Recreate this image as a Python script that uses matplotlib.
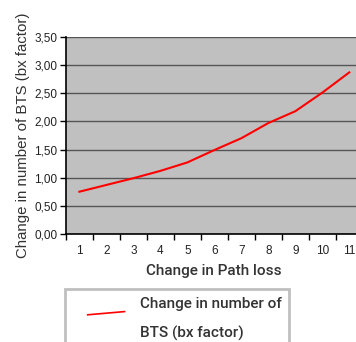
import matplotlib
matplotlib.use('Agg')
import matplotlib.pyplot as plt
from matplotlib.legend_handler import HandlerBase
from matplotlib.lines import Line2D
import numpy as np

# values
path_loss = [1, 2, 3, 4, 5, 6, 7, 8, 9, 10, 11]
bts_factor = [0.75, 0.87, 0.99, 1.12, 1.27, 1.49, 1.70, 1.97, 2.18, 2.51, 2.87]
y_ticks = [0.0, 0.5, 1.0, 1.5, 2.0, 2.5, 3.0, 3.5]
series_name = "Change in number of\nBTS (bx factor)"


class SlantHandler(HandlerBase):
    # legend key drawn as a short, slightly tilted line, like the original
    def create_artists(self, legend, orig_handle, xdescent, ydescent,
                       width, height, fontsize, trans):
        x0 = -xdescent + 0.29 * width
        x1 = -xdescent + width
        y0 = -ydescent + 0.9 * height
        y1 = -ydescent + 1.2 * height
        line = Line2D([x0, x1], [y0, y1], color=orig_handle.get_color(),
                      lw=1.2, transform=trans)
        return [line]


fig = plt.figure(figsize=(3.56, 3.42), dpi=100)
ax = fig.add_axes([0.185, 0.316, 0.834, 0.576])
ax.set_facecolor('#c0c0c0')

line, = ax.plot(path_loss, bts_factor, color='red', lw=1.5, label=series_name)

ax.set_xlim(0.5, 11.5)
ax.set_ylim(0, 3.5)
ax.set_yticks(y_ticks)
ax.set_yticklabels(["{0:.2f}".format(v).replace('.', ',') for v in y_ticks])
ax.set_xticks(path_loss)
ax.set_xticklabels([str(v) for v in path_loss])
ax.set_xticks(np.arange(0.5, 12, 1), minor=True)
ax.tick_params(axis='x', which='major', length=0, pad=8)
ax.tick_params(axis='x', which='minor', length=4, width=1, color='black')
ax.tick_params(axis='y', length=4, width=1, pad=2)
for lab in ax.get_xticklabels() + ax.get_yticklabels():
    lab.set_family('Liberation Sans')
    lab.set_fontsize(8.5)
    lab.set_color('#222222')

ax.grid(axis='y', color='#555555', lw=1)
ax.set_axisbelow(True)
for s in ['top', 'right']:
    ax.spines[s].set_visible(False)
ax.spines['left'].set_linewidth(1.2)
ax.spines['bottom'].set_linewidth(1.2)

ax.set_xlabel("Change in Path loss", family='Roboto', fontsize=11,
              weight='medium', color='#333333', labelpad=5)
ax.set_ylabel("Change in number of BTS (bx factor)", family='Liberation Sans',
              fontsize=10.8, color='#333333', labelpad=3)

leg = fig.legend(handles=[line], handler_map={Line2D: SlantHandler()},
                 loc='upper left', bbox_to_anchor=(65 / 356, 1 - 289 / 342),
                 borderaxespad=0, frameon=True, fancybox=False,
                 handlelength=3.4, handletextpad=1.0, borderpad=0.5,
                 prop={'family': 'Roboto', 'size': 11, 'weight': 'medium'})
leg.get_frame().set_edgecolor('#b0b0b0')
leg.get_frame().set_linewidth(2)
for t in leg.get_texts():
    t.set_linespacing(2.3)
    t.set_color('#333333')

fig.savefig('out.png', dpi=100)
